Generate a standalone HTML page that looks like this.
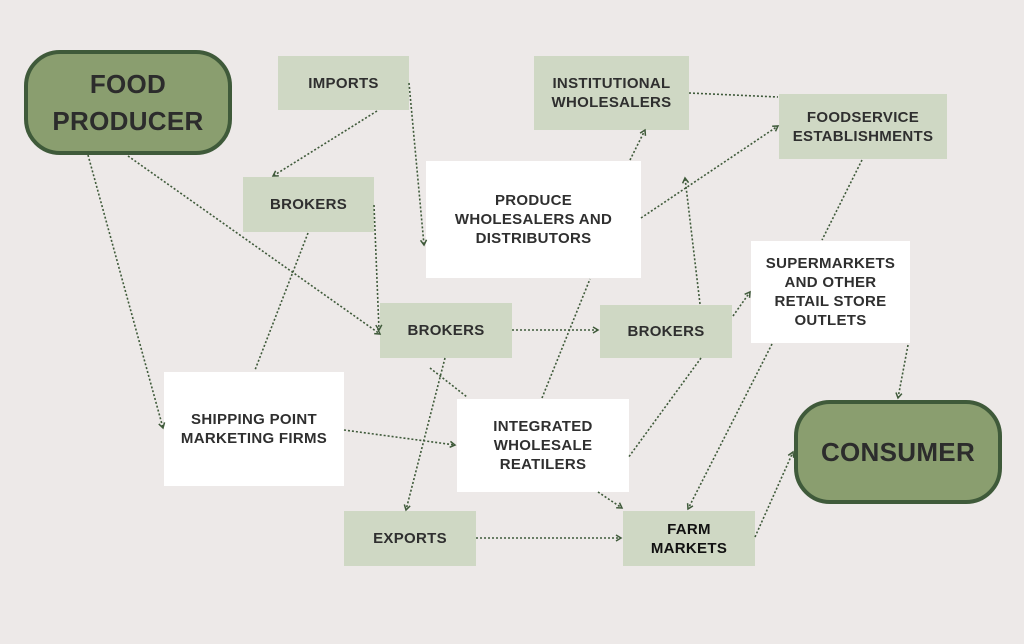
<!DOCTYPE html>
<html><head><meta charset="utf-8"><style>
body{margin:0;width:1024px;height:644px;background:#ede9e8;position:relative;overflow:hidden;font-family:"Liberation Sans",sans-serif}
.b{position:absolute;display:flex;align-items:center;justify-content:center;text-align:center;font-weight:bold;color:#2f2f2f;font-size:15px;line-height:19px;letter-spacing:0.3px;box-sizing:border-box}
.g{background:#cfd8c4}.w{background:#fff}
.r{background:#8a9e6f;border:4px solid #3f5a3a;border-radius:36px;font-size:26px;line-height:37px;color:#2c2c2c}
svg{position:absolute;left:0;top:0}
</style></head><body>
<div class="b r" style="left:24px;top:50px;width:208px;height:105px">FOOD<br>PRODUCER</div>
<div class="b r" style="left:794px;top:400px;width:208px;height:104px">CONSUMER</div>
<div class="b g" style="left:278px;top:56px;width:131px;height:54px">IMPORTS</div>
<div class="b g" style="left:243px;top:177px;width:131px;height:55px">BROKERS</div>
<div class="b w" style="left:426px;top:161px;width:215px;height:117px">PRODUCE<br>WHOLESALERS AND<br>DISTRIBUTORS</div>
<div class="b g" style="left:534px;top:56px;width:155px;height:74px">INSTITUTIONAL<br>WHOLESALERS</div>
<div class="b g" style="left:779px;top:94px;width:168px;height:65px">FOODSERVICE<br>ESTABLISHMENTS</div>
<div class="b w" style="left:751px;top:241px;width:159px;height:102px">SUPERMARKETS<br>AND OTHER<br>RETAIL STORE<br>OUTLETS</div>
<div class="b g" style="left:380px;top:303px;width:132px;height:55px">BROKERS</div>
<div class="b g" style="left:600px;top:305px;width:132px;height:53px">BROKERS</div>
<div class="b w" style="left:164px;top:372px;width:180px;height:114px">SHIPPING POINT<br>MARKETING FIRMS</div>
<div class="b w" style="left:457px;top:399px;width:172px;height:93px">INTEGRATED<br>WHOLESALE<br>REATILERS</div>
<div class="b g" style="left:344px;top:511px;width:132px;height:55px">EXPORTS</div>
<div class="b g" style="left:623px;top:511px;width:132px;height:55px;color:#111">FARM<br>MARKETS</div>
<svg width="1024" height="644">
<defs><marker id="a" markerWidth="8" markerHeight="8" refX="6" refY="4" orient="auto" markerUnits="userSpaceOnUse"><path d="M1,1 L6,4 L1,7" fill="none" stroke="#3f5a3a" stroke-width="1.5"/></marker></defs>
<g stroke="#3f5a3a" stroke-width="1.6" stroke-dasharray="2 2" fill="none">
<line x1="88" y1="155" x2="163" y2="428" marker-end="url(#a)"/>
<line x1="128" y1="156" x2="380" y2="334" marker-end="url(#a)"/>
<line x1="430" y1="368" x2="467" y2="397"/>
<line x1="374" y1="205" x2="379" y2="330" marker-end="url(#a)"/>
<line x1="377" y1="111" x2="273" y2="176" marker-end="url(#a)"/>
<line x1="409" y1="83" x2="424" y2="245" marker-end="url(#a)"/>
<line x1="308" y1="233" x2="255" y2="370"/>
<line x1="512" y1="330" x2="598" y2="330" marker-end="url(#a)"/>
<line x1="445" y1="358" x2="406" y2="510" marker-end="url(#a)"/>
<line x1="344" y1="430" x2="455" y2="445" marker-end="url(#a)"/>
<line x1="542" y1="398" x2="590" y2="279"/>
<line x1="630" y1="160" x2="645" y2="130" marker-end="url(#a)"/>
<line x1="641" y1="218" x2="778" y2="126" marker-end="url(#a)"/>
<line x1="689" y1="93" x2="778" y2="97"/>
<line x1="862" y1="160" x2="822" y2="240"/>
<line x1="700" y1="304" x2="685" y2="178" marker-end="url(#a)"/>
<line x1="733" y1="316" x2="750" y2="292" marker-end="url(#a)"/>
<line x1="701" y1="358" x2="628" y2="458"/>
<line x1="772" y1="344" x2="688" y2="509" marker-end="url(#a)"/>
<line x1="908" y1="345" x2="898" y2="398" marker-end="url(#a)"/>
<line x1="598" y1="492" x2="622" y2="508" marker-end="url(#a)"/>
<line x1="476" y1="538" x2="621" y2="538" marker-end="url(#a)"/>
<line x1="755" y1="537" x2="793" y2="452" marker-end="url(#a)"/>
</g></svg>
</body></html>
